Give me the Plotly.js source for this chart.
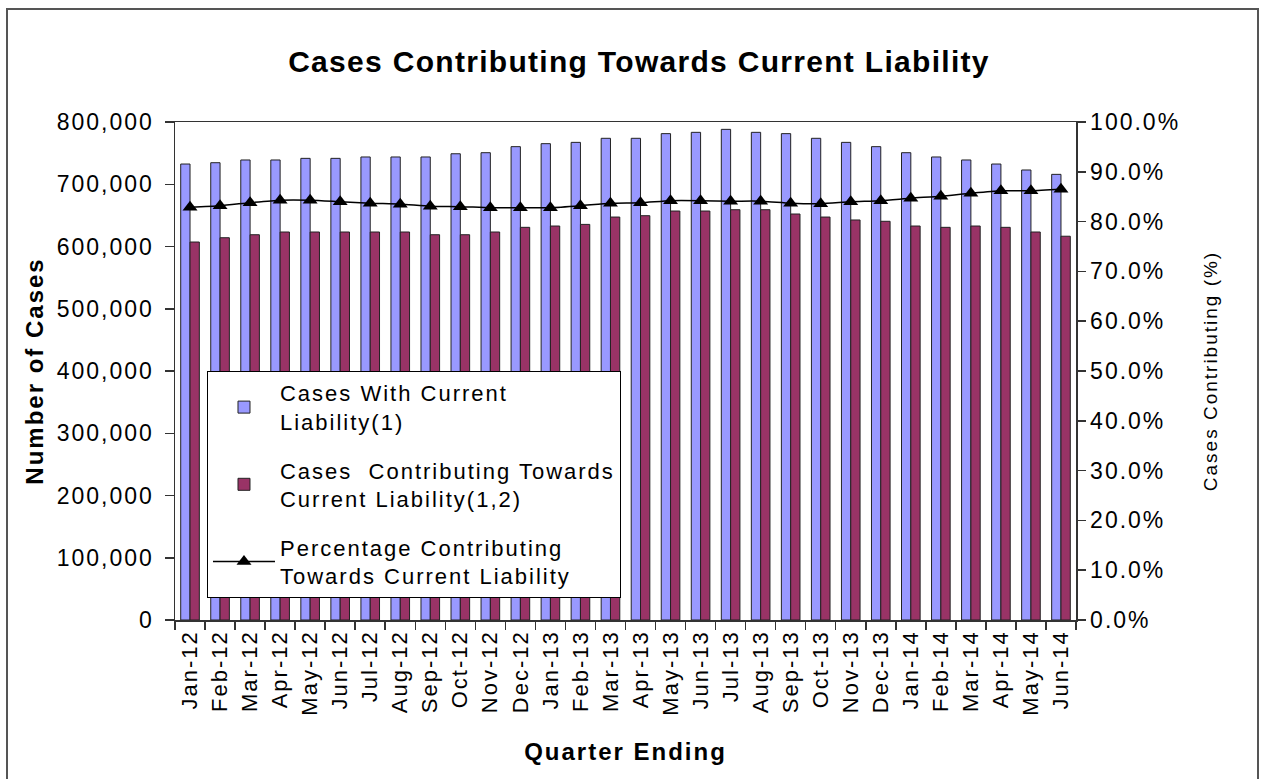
<!DOCTYPE html>
<html>
<head>
<meta charset="utf-8">
<script src="https://cdn.plot.ly/plotly-3.0.1.min.js"></script>
<style>
html, body { margin: 0; padding: 0; background: #fff; }
#chart { width: 1266px; height: 779px; }
svg text { letter-spacing: 2px; }
svg text.gtitle { letter-spacing: 1.3px; }
</style>
</head>
<body>
<div id="chart"></div>
<script>
const months = ['Jan-12','Feb-12','Mar-12','Apr-12','May-12','Jun-12','Jul-12','Aug-12','Sep-12','Oct-12','Nov-12','Dec-12',
  'Jan-13','Feb-13','Mar-13','Apr-13','May-13','Jun-13','Jul-13','Aug-13','Sep-13','Oct-13','Nov-13','Dec-13',
  'Jan-14','Feb-14','Mar-14','Apr-14','May-14','Jun-14'];

const casesWithLiability = [732500, 734600, 739000, 739000, 741600, 741600, 743800, 743800, 743800, 749000, 750700, 760400,
  765200, 767300, 773800, 773800, 781300, 783400, 788200, 783400, 781300, 773800, 767300, 760400,
  750700, 743800, 739000, 732500, 722900, 715900];

const casesContributing = [607200, 614100, 618900, 623300, 623300, 623300, 623300, 623300, 618900, 618900, 623300, 630800,
  632900, 635500, 647300, 649500, 657000, 657000, 659100, 659100, 652200, 647300, 642600, 640500,
  632900, 630800, 632900, 630800, 623300, 616500];

const pctContributing = [82.9, 83.2, 83.8, 84.3, 84.3, 84.0, 83.7, 83.5, 83.1, 83.0, 82.8, 82.8,
  82.8, 83.2, 83.7, 83.8, 84.2, 84.2, 84.1, 84.1, 83.7, 83.6, 84.0, 84.2,
  84.7, 85.1, 85.7, 86.2, 86.2, 86.5];

const seriesNames = [
  'Cases With Current<br>Liability(1)',
  'Cases\u00a0\u00a0Contributing Towards<br>Current Liability(1,2)',
  'Percentage Contributing<br>Towards Current Liability'
];

const FONT = 'Liberation Sans, Arial, sans-serif';
const AX = '#333333';

const traces = [
  {
    type: 'bar', name: seriesNames[0], x: months, y: casesWithLiability,
    marker: { color: '#9999FF', line: { color: '#222222', width: 1 } },
    legendgroup: 'a'
  },
  {
    type: 'bar', name: seriesNames[1], x: months, y: casesContributing,
    marker: { color: '#993366', line: { color: '#222222', width: 1 } },
    legendgroup: 'b'
  },
  {
    type: 'scatter', mode: 'lines+markers', name: seriesNames[2], x: months, y: pctContributing,
    yaxis: 'y2', cliponaxis: false,
    line: { color: '#000000', width: 1.5, shape: 'spline', smoothing: 0.6 },
    marker: { symbol: 'triangle-up', size: 13, color: '#000000' },
    legendgroup: 'c'
  }
];

const layout = {
  width: 1266, height: 779,
  margin: { l: 175, r: 190, t: 122, b: 159, autoexpand: false },
  paper_bgcolor: '#ffffff', plot_bgcolor: '#ffffff',
  font: { family: FONT, color: '#000000', size: 22 },
  title: {
    text: '<b>Cases Contributing Towards Current Liability</b>',
    font: { family: FONT, size: 30, color: '#000000' },
    x: 639 / 1266, xanchor: 'center', xref: 'container',
    y: 57, yref: 'container', yanchor: 'middle'
  },
  barmode: 'group', bargap: 0.38, bargroupgap: 0,
  showlegend: true,
  legend: {
    x: 0.0355, y: 0.5, xanchor: 'left', yanchor: 'top',
    bgcolor: '#ffffff', bordercolor: '#000000', borderwidth: 1,
    font: { family: FONT, size: 22, color: '#000000' },
    itemwidth: 62, tracegroupgap: 17, traceorder: 'grouped'
  },
  xaxis: {
    type: 'category', tickangle: -90, range: [-0.5, 29.5], autorange: false,
    tickson: 'boundaries', ticks: 'outside', ticklen: 8, tickcolor: AX, tickwidth: 1.5,
    showline: true, linecolor: AX, linewidth: 1.5, mirror: true,
    showgrid: false, zeroline: false,
    tickfont: { family: FONT, size: 22, color: '#000000' },
    title: { text: '<b>Quarter Ending</b>', font: { family: FONT, size: 24, color: '#000000' }, standoff: 28 },
    automargin: false
  },
  yaxis: {
    range: [0, 800000], autorange: false, dtick: 100000, tickformat: ',',
    ticks: 'outside', ticklen: 9, tickcolor: AX, tickwidth: 1.5,
    showline: true, linecolor: AX, linewidth: 1.5,
    showgrid: false, zeroline: false,
    tickfont: { family: FONT, size: 23, color: '#000000' },
    ticklabelstandoff: 6,
    title: { text: '<b>Number of Cases</b>', font: { family: FONT, size: 24, color: '#000000' }, standoff: 6 },
    automargin: false
  },
  yaxis2: {
    overlaying: 'y', side: 'right',
    range: [0, 100], autorange: false, dtick: 10, tickformat: '.1f', ticksuffix: '%',
    ticks: 'outside', ticklen: 8, tickcolor: AX, tickwidth: 1.5,
    showline: true, linecolor: AX, linewidth: 1.5,
    showgrid: false, zeroline: false,
    tickfont: { family: FONT, size: 23, color: '#000000' },
    title: { text: 'Cases Contributing (%)', font: { family: FONT, size: 19, color: '#000000' }, standoff: 24 },
    automargin: false
  },
  shapes: [
    {
      type: 'rect', xref: 'paper', yref: 'paper', layer: 'below',
      x0: (7 - 175) / 901, x1: (1258 - 175) / 901,
      y0: (620 - 790) / 498, y1: (620 - 9) / 498,
      line: { color: '#555555', width: 2 }, fillcolor: 'rgba(0,0,0,0)'
    }
  ]
};

Plotly.newPlot('chart', traces, layout, { staticPlot: true, displayModeBar: false });
</script>
</body>
</html>
